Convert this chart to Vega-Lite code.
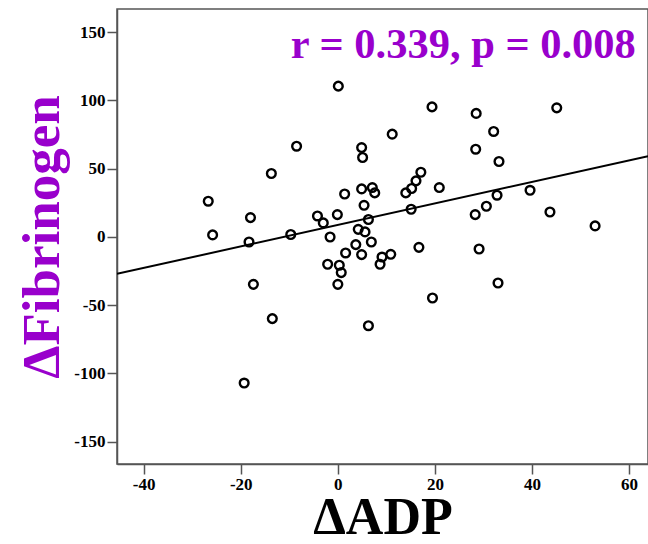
{
  "$schema": "https://vega.github.io/schema/vega-lite/v6.json",
  "width": 531,
  "height": 455,
  "autosize": "none",
  "padding": {"left": 117, "top": 9, "right": 0, "bottom": 80},
  "background": "white",
  "config": {
    "view": {"stroke": "#555555", "strokeWidth": 1.5},
    "font": "Liberation Serif",
    "axis": {
      "grid": false,
      "domainColor": "#555555",
      "domainWidth": 1.5,
      "tickColor": "#555555",
      "tickWidth": 1.5,
      "tickSize": 10,
      "labelFont": "Liberation Serif",
      "labelFontWeight": "bold",
      "labelFontSize": 17,
      "labelColor": "black",
      "labelPadding": 2,
      "labelExpr": "'' + datum.value",
      "titleFont": "Liberation Serif",
      "titleFontWeight": "bold",
      "titleFontSize": 53
    }
  },
  "datasets": {
    "pts": [
      {"adp": 0.1, "fib": 110.5},
      {"adp": 19.4, "fib": 95.3},
      {"adp": 28.5, "fib": 90.5},
      {"adp": 45.1, "fib": 94.6},
      {"adp": 32.1, "fib": 77.3},
      {"adp": 11.2, "fib": 75.3},
      {"adp": -8.5, "fib": 66.5},
      {"adp": 4.9, "fib": 65.5},
      {"adp": 5.1, "fib": 58.2},
      {"adp": 28.4, "fib": 64.3},
      {"adp": 33.2, "fib": 55.3},
      {"adp": -13.7, "fib": 46.5},
      {"adp": 17.1, "fib": 47.4},
      {"adp": 16.1, "fib": 41.1},
      {"adp": 15.2, "fib": 35.5},
      {"adp": 14.0, "fib": 32.3},
      {"adp": 20.9, "fib": 36.2},
      {"adp": 4.9, "fib": 35.2},
      {"adp": 7.1, "fib": 36.2},
      {"adp": 7.6, "fib": 32.3},
      {"adp": 1.4, "fib": 31.5},
      {"adp": -26.7, "fib": 26.2},
      {"adp": 5.4, "fib": 23.2},
      {"adp": 39.6, "fib": 34.2},
      {"adp": 32.8, "fib": 30.6},
      {"adp": 30.6, "fib": 22.5},
      {"adp": 15.1, "fib": 20.3},
      {"adp": 43.7, "fib": 18.3},
      {"adp": 28.3, "fib": 16.4},
      {"adp": 53.0, "fib": 8.1},
      {"adp": -0.1, "fib": 16.4},
      {"adp": -4.2, "fib": 15.4},
      {"adp": -3.0, "fib": 10.3},
      {"adp": 6.3, "fib": 12.8},
      {"adp": -18.0, "fib": 14.2},
      {"adp": -25.8, "fib": 1.5},
      {"adp": -9.7, "fib": 1.8},
      {"adp": -1.6, "fib": 0.0},
      {"adp": 4.2, "fib": 5.6},
      {"adp": 5.6, "fib": 3.7},
      {"adp": -18.3, "fib": -3.7},
      {"adp": 6.9, "fib": -3.7},
      {"adp": 3.7, "fib": -5.6},
      {"adp": 1.6, "fib": -11.7},
      {"adp": 16.7, "fib": -7.6},
      {"adp": 29.1, "fib": -8.8},
      {"adp": 4.9, "fib": -12.9},
      {"adp": 9.1, "fib": -14.7},
      {"adp": 10.9, "fib": -12.7},
      {"adp": -2.1, "fib": -20.0},
      {"adp": 0.3, "fib": -20.7},
      {"adp": 0.7, "fib": -26.1},
      {"adp": 8.7, "fib": -20.0},
      {"adp": 0.0, "fib": -34.7},
      {"adp": -17.4, "fib": -34.7},
      {"adp": 33.0, "fib": -33.7},
      {"adp": 19.5, "fib": -44.7},
      {"adp": -13.5, "fib": -59.8},
      {"adp": 6.3, "fib": -65.0},
      {"adp": -19.3, "fib": -107.0}
    ],
    "note": [
      {"adp": 61.4, "fib": 131, "label": "r = 0.339, p = 0.008"}
    ]
  },
  "layer": [
    {
      "data": {"name": "pts"},
      "transform": [{"regression": "fib", "on": "adp", "extent": [-45.5, 63.9]}],
      "mark": {"type": "line", "color": "black", "strokeWidth": 2, "clip": true},
      "encoding": {
        "x": {"field": "adp", "type": "quantitative"},
        "y": {"field": "fib", "type": "quantitative"}
      }
    },
    {
      "data": {"name": "pts"},
      "mark": {"type": "point", "shape": "circle", "filled": false, "color": "black", "strokeWidth": 2.4, "size": 76, "opacity": 1},
      "encoding": {
        "x": {
          "field": "adp", "type": "quantitative",
          "scale": {"domain": [-45.5, 63.9], "nice": false, "zero": false},
          "axis": {"values": [-40, -20, 0, 20, 40, 60], "title": "ΔADP", "titleColor": "black", "titleFontSize": 52, "titlePadding": 0}
        },
        "y": {
          "field": "fib", "type": "quantitative",
          "scale": {"domain": [-166.3, 167], "nice": false, "zero": false},
          "axis": {"values": [-150, -100, -50, 0, 50, 100, 150], "title": "ΔFibrinogen", "titleColor": "#9900cc", "titlePadding": 4}
        }
      }
    },
    {
      "data": {"name": "note"},
      "mark": {"type": "text", "align": "right", "baseline": "alphabetic", "font": "Liberation Serif", "fontWeight": "bold", "fontSize": 42.5, "color": "#9900cc"},
      "encoding": {
        "x": {"field": "adp", "type": "quantitative"},
        "y": {"field": "fib", "type": "quantitative"},
        "text": {"field": "label"}
      }
    }
  ]
}
